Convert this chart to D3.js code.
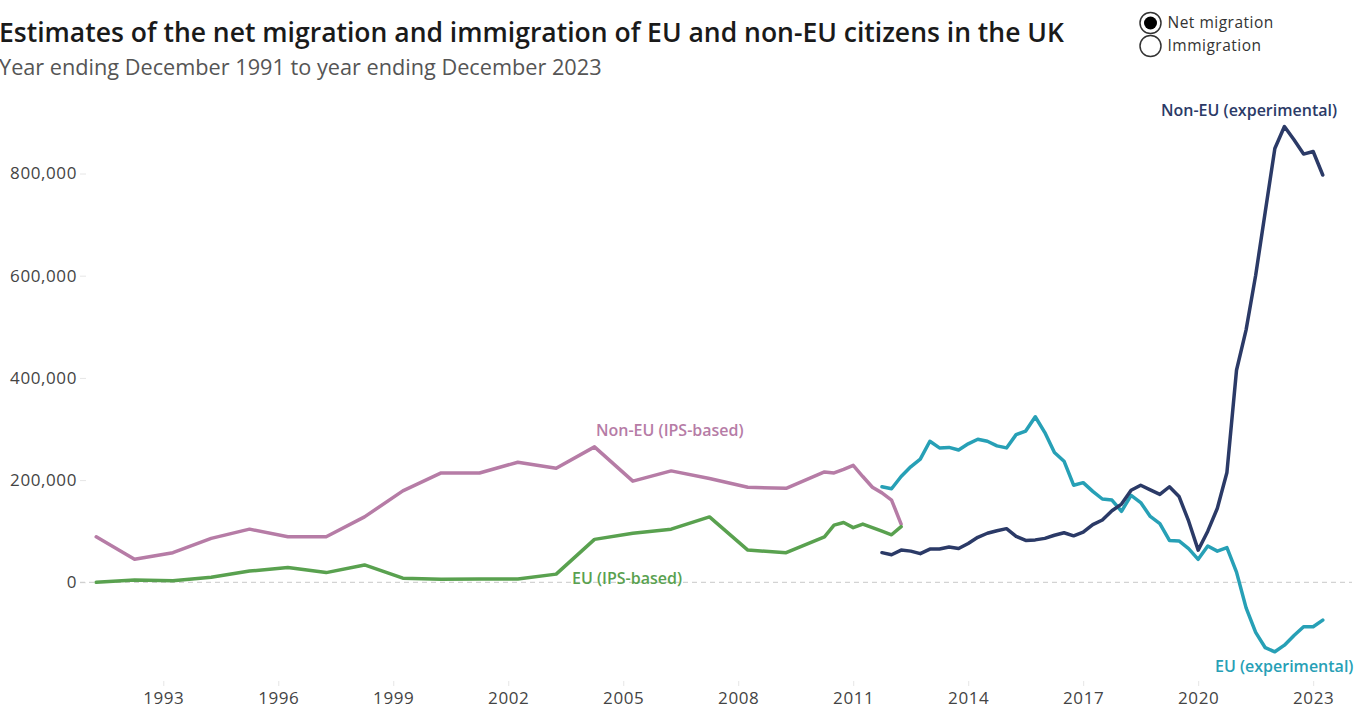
<!DOCTYPE html>
<html>
<head>
<meta charset="utf-8">
<script src="https://cdn.jsdelivr.net/npm/d3@7"></script>
<style>
  body { margin: 0; background: #fff; }
  svg { display: block; font-family: "Open Sans", sans-serif; }
</style>
</head>
<body>
<div id="chart"></div>
<script>
// periods are "year ending" month + year
var ipsPeriods = ["Dec 1991", "Dec 1992", "Dec 1993", "Dec 1994", "Dec 1995", "Dec 1996",
  "Dec 1997", "Dec 1998", "Dec 1999", "Dec 2000", "Dec 2001", "Dec 2002", "Dec 2003",
  "Dec 2004", "Dec 2005", "Dec 2006", "Dec 2007", "Dec 2008", "Dec 2009", "Dec 2010",
  "Mar 2011", "Jun 2011", "Sep 2011", "Dec 2011", "Mar 2012", "Jun 2012", "Sep 2012", "Dec 2012"];
var ipsNonEU = [89000, 45000, 58000, 86000, 104000, 89000, 89000, 128000, 179000, 214000,
  214000, 235000, 223000, 265000, 198000, 218000, 203000, 186000, 184000, 216000,
  214000, 221000, 229000, 207000, 186000, 175000, 161000, 114000];
var ipsEU = [0, 4500, 3000, 10000, 22000, 29000, 19000, 34000, 8000, 6000,
  6500, 6500, 16000, 84000, 96000, 104000, 128000, 63000, 58000, 89000,
  112000, 117000, 107000, 114000, 107000, 100000, 93000, 109000];

var expPeriods = ["Jun 2012", "Sep 2012", "Dec 2012",
  "Mar 2013", "Jun 2013", "Sep 2013", "Dec 2013", "Mar 2014", "Jun 2014", "Sep 2014", "Dec 2014",
  "Mar 2015", "Jun 2015", "Sep 2015", "Dec 2015", "Mar 2016", "Jun 2016", "Sep 2016", "Dec 2016",
  "Mar 2017", "Jun 2017", "Sep 2017", "Dec 2017", "Mar 2018", "Jun 2018", "Sep 2018", "Dec 2018",
  "Mar 2019", "Jun 2019", "Sep 2019", "Dec 2019", "Mar 2020", "Jun 2020", "Sep 2020", "Dec 2020",
  "Mar 2021", "Jun 2021", "Sep 2021", "Dec 2021", "Mar 2022", "Jun 2022", "Sep 2022", "Dec 2022",
  "Mar 2023", "Jun 2023", "Sep 2023", "Dec 2023"];
var expNonEU = [58000, 54000, 63000, 61000, 56000, 65000, 65000, 69000, 66000, 76000, 88000,
  96000, 101000, 105000, 90000, 82000, 83000, 86000, 92000, 97000, 91000, 98000, 113000,
  122000, 140000, 153000, 180000, 190000, 181000, 172000, 187000, 168000, 120000, 63000, 100000,
  145000, 215000, 415000, 494000, 601000, 725000, 849000, 892000, 866000, 838000, 843000, 797000];
var expEU = [187000, 183000, 207000, 226000, 241000, 276000, 263000, 264000, 259000, 271000, 280000,
  276000, 267000, 263000, 289000, 296000, 324000, 293000, 254000, 237000, 190000, 195000, 178000,
  163000, 161000, 139000, 170000, 156000, 129000, 115000, 82000, 81000, 66000, 45000, 71000,
  61000, 68000, 20000, -50000, -98000, -128000, -136000, -123000, -104000, -87000, -87000, -74000];

var yTicks = [0, 200000, 400000, 600000, 800000];
var xTicks = [1993, 1996, 1999, 2002, 2005, 2008, 2011, 2014, 2017, 2020, 2023];

var colors = {
  ipsNonEU: "#b67ca6",
  ipsEU: "#59a14f",
  expNonEU: "#2b3a67",
  expEU: "#27a0b6"
};

var width = 1367, height = 709;
var monthNum = { Mar: 3, Jun: 6, Sep: 9, Dec: 12 };
// axis position of a "year ending" period (year ending Sep sits on the year tick)
function toAxis(p) {
  var s = p.split(" ");
  return +s[1] + (monthNum[s[0]] - 9) / 12;
}
function pairs(periods, vals) {
  return periods.map(function(p, i) { return { t: toAxis(p), v: vals[i] }; });
}

var x = d3.scaleLinear().domain([1990, 2024]).range([48.3, 1351.5]);
var y = d3.scaleLinear().domain([0, 800000]).range([582.3, 173.5]);

var svg = d3.select("#chart").append("svg")
  .attr("width", width)
  .attr("height", height);

// title
svg.append("text")
  .attr("x", -1).attr("y", 42)
  .attr("font-size", 26.5).attr("font-weight", 600)
  .attr("fill", "#1a1a1a")
  .text("Estimates of the net migration and immigration of EU and non-EU citizens in the UK");
svg.append("text")
  .attr("x", -1).attr("y", 75)
  .attr("font-size", 21.7)
  .attr("fill", "#555")
  .text("Year ending December 1991 to year ending December 2023");

// legend (radio buttons)
var legendItems = ["Net migration", "Immigration"];
var leg = svg.selectAll(".leg").data(legendItems).enter().append("g")
  .attr("transform", function(d, i) { return "translate(1150.5," + (23 + i * 23) + ")"; });
leg.append("circle").attr("r", 10.5)
  .attr("fill", "#fff").attr("stroke", "#333").attr("stroke-width", 1.5);
leg.filter(function(d, i) { return i === 0; }).append("circle")
  .attr("r", 6.5).attr("fill", "#000");
leg.append("text")
  .attr("x", 17).attr("y", 5)
  .attr("font-size", 15.5).attr("letter-spacing", 0.5)
  .attr("fill", "#333")
  .text(function(d) { return d; });

// y axis
var yAxis = d3.axisLeft(y).tickValues(yTicks).tickFormat(d3.format(",")).tickSize(6).tickPadding(3);
var gy = svg.append("g").attr("transform", "translate(86,0)").call(yAxis);
gy.select(".domain").remove();
gy.selectAll("line").attr("stroke", "#e6e6e6");
gy.selectAll("text").attr("font-size", 17).attr("letter-spacing", 0.6)
  .attr("fill", "#444").attr("font-family", "Open Sans");

// x axis
var xAxis = d3.axisBottom(x).tickValues(xTicks).tickFormat(d3.format("d")).tickSize(5).tickPadding(6);
var gx = svg.append("g").attr("transform", "translate(0,681)").call(xAxis);
gx.select(".domain").remove();
gx.selectAll("line").attr("stroke", "#e6e6e6");
gx.selectAll("text").attr("font-size", 17).attr("letter-spacing", 0.6)
  .attr("fill", "#444").attr("font-family", "Open Sans");

// zero line
svg.append("line")
  .attr("x1", 80).attr("x2", 1352)
  .attr("y1", y(0)).attr("y2", y(0))
  .attr("stroke", "#c8c8c8").attr("stroke-width", 1)
  .attr("stroke-dasharray", "5,4");

var line = d3.line()
  .x(function(d) { return x(d.t); })
  .y(function(d) { return y(d.v); });

var series = [
  { key: "ipsNonEU", data: pairs(ipsPeriods, ipsNonEU) },
  { key: "ipsEU", data: pairs(ipsPeriods, ipsEU) },
  { key: "expEU", data: pairs(expPeriods, expEU) },
  { key: "expNonEU", data: pairs(expPeriods, expNonEU) }
];

svg.selectAll(".series").data(series).enter().append("path")
  .attr("d", function(d) { return line(d.data); })
  .attr("fill", "none")
  .attr("stroke", function(d) { return colors[d.key]; })
  .attr("stroke-width", 3.5)
  .attr("stroke-linejoin", "round")
  .attr("stroke-linecap", "round");

// line labels
var labels = [
  { key: "ipsNonEU", text: "Non-EU (IPS-based)", x: 596, y: 436 },
  { key: "ipsEU", text: "EU (IPS-based)", x: 572, y: 584 },
  { key: "expNonEU", text: "Non-EU (experimental)", x: 1161, y: 116 },
  { key: "expEU", text: "EU (experimental)", x: 1215, y: 672 }
];
svg.selectAll(".lbl").data(labels).enter().append("text")
  .attr("x", function(d) { return d.x; })
  .attr("y", function(d) { return d.y; })
  .attr("font-size", 16).attr("font-weight", 600)
  .attr("fill", function(d) { return colors[d.key]; })
  .text(function(d) { return d.text; });
</script>
</body>
</html>
